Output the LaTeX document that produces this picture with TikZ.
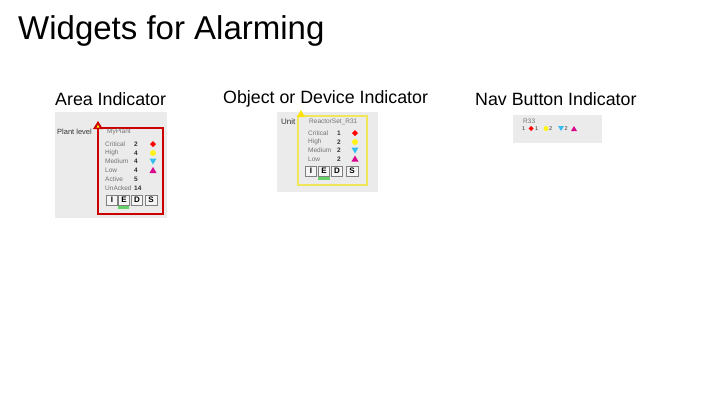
\documentclass[tikz,border=0pt]{standalone}
\usepackage{fontspec}
\setmainfont{Liberation Sans}
\begin{document}
\begin{tikzpicture}[x=1pt,y=-1pt,
  tiny/.style={font=\fontsize{6.5}{7}\selectfont,text=black!55,inner sep=0pt,anchor=west},
  tinyb/.style={font=\fontsize{6.5}{7}\selectfont\bfseries,text=black!80,inner sep=0pt,anchor=west},
  head/.style={font=\fontsize{17.8}{20}\selectfont,inner sep=0pt,anchor=west},
  bg/.style={fill=black!8,draw=none},
  btn/.style={draw=black!50,fill=black!4,minimum width=11pt,minimum height=10pt,inner sep=0pt,font=\fontsize{8}{8}\selectfont\bfseries},
  crit/.style={fill=red,draw=none},
  hi/.style={fill=yellow!90!white,draw=none},
  med/.style={fill=cyan!80!white,draw=none},
  lo/.style={fill=magenta!90!blue,draw=none}]
\useasboundingbox (0,0) rectangle (720,405);
\node[font=\fontsize{33}{36}\selectfont,anchor=west,inner sep=0pt] (title) at (18,31) {Widgets for Alarming};
\node[head] (h1) at (55,99) {Area Indicator};
\node[head] (h2) at (223,99) {Object or Device Indicator};
\node[head] (h3) at (475,99) {Nav Button Indicator};
% Area
\fill[bg] (55,112) rectangle (167,218);
\draw[red!80!black,line width=1.2pt] (98,128) rectangle (163,214);
\fill[red!80!black] (93,129) -- (98,121) -- (103,129) -- cycle;
\fill[yellow] (96.5,127.5) -- (98,124.5) -- (99.5,127.5) -- cycle;
\node[tinyb,font=\fontsize{7.5}{8}\selectfont] (pl) at (57,132) {Plant level};
\node[tiny] (mp) at (107,132) {MyPlant};
\foreach \t/\y in {Critical/144,High/153,Medium/161,Low/170,Active/179,UnAcked/188}
  \node[tiny] at (105,\y) {\t};
\foreach \v/\y in {2/144,4/153,4/161,4/170,5/179,14/188}
  \node[tinyb] at (134,\y) {\v};
\fill[crit] (153,141) -- (156,144) -- (153,147) -- (150,144) -- cycle;
\fill[hi] (153,153) circle (3);
\fill[med] (149.5,158.5) -- (156.5,158.5) -- (153,164.5) -- cycle;
\fill[lo] (149.5,173) -- (156.5,173) -- (153,167) -- cycle;
\node[btn] (a1) at (112,200) {I};
\node[btn] (a2) at (124,200) {E};
\node[btn] (a3) at (137,200) {D};
\node[btn,minimum width=12pt] (a4) at (151,200) {S};
\fill[green!70!black!60] (118,206) rectangle (129,208.5);
% Object
\fill[bg] (277,112) rectangle (378,192);
\draw[yellow!90!black!70,line width=1.2pt] (298,116) rectangle (367,185);
\fill[yellow!85!orange] (297,117) -- (301,110) -- (305,117) -- cycle;
\node[tinyb,font=\fontsize{8}{8}\selectfont] (un) at (281,122) {Unit};
\node[tiny] (rs) at (309,122) {ReactorSet\_R31};
\foreach \t/\y in {Critical/133,High/142,Medium/150,Low/159}
  \node[tiny] at (308,\y) {\t};
\foreach \v/\y in {1/133,2/142,2/150,2/159}
  \node[tinyb] at (337,\y) {\v};
\fill[crit] (355,130) -- (358,133) -- (355,136) -- (352,133) -- cycle;
\fill[hi] (355,142) circle (3);
\fill[med] (351.5,147.5) -- (358.5,147.5) -- (355,153.5) -- cycle;
\fill[lo] (351.5,161.5) -- (358.5,161.5) -- (355,155.5) -- cycle;
\node[btn] (b1) at (311,171) {I};
\node[btn] (b2) at (324,171) {E};
\node[btn] (b3) at (337,171) {D};
\node[btn,minimum width=12pt] (b4) at (352,171) {S};
\fill[green!70!black!60] (318,177) rectangle (330,179.5);
% Nav
\fill[bg] (513,115) rectangle (602,143);
\node[tiny] (r33) at (523,121) {R33};
\node[tinyb,font=\fontsize{5.5}{6}\selectfont] at (522,128.5) {1};
\fill[crit] (531,126) -- (533.5,128.5) -- (531,131) -- (528.5,128.5) -- cycle;
\node[tinyb,font=\fontsize{5.5}{6}\selectfont] at (535,128.5) {1};
\fill[hi] (546,128.5) circle (2.5);
\node[tinyb,font=\fontsize{5.5}{6}\selectfont] at (549,128.5) {2};
\fill[med] (558,126) -- (564,126) -- (561,131) -- cycle;
\node[tinyb,font=\fontsize{5.5}{6}\selectfont] at (564.5,128.5) {2};
\fill[lo] (571,131) -- (577,131) -- (574,126) -- cycle;
\end{tikzpicture}
\end{document}
